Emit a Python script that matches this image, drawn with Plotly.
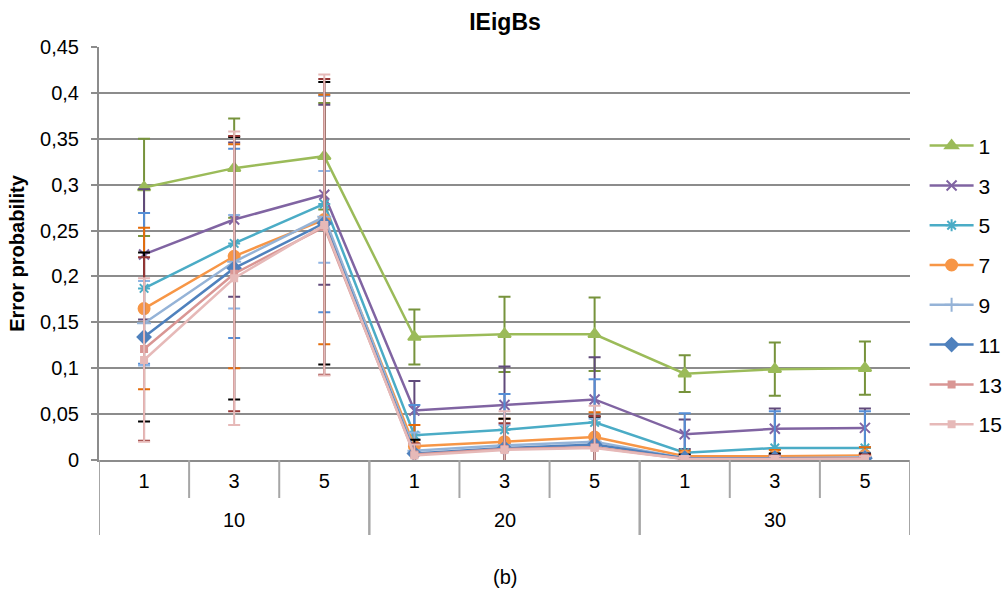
import plotly.graph_objects as go

# Outer groups and inner categories of the x axis
groups = ["10", "10", "10", "20", "20", "20", "30", "30", "30"]
inner = ["1", "3", "5", "1", "3", "5", "1", "3", "5"]

series_names = ["1", "3", "5", "7", "9", "11", "13", "15"]

s1 = [0.297, 0.318, 0.331, 0.134, 0.137, 0.137, 0.094, 0.099, 0.100]
s3 = [0.224, 0.262, 0.289, 0.054, 0.060, 0.066, 0.028, 0.034, 0.035]
s5 = [0.187, 0.236, 0.279, 0.027, 0.033, 0.041, 0.008, 0.013, 0.013]
s7 = [0.165, 0.222, 0.262, 0.015, 0.020, 0.025, 0.004, 0.004, 0.005]
s9 = [0.149, 0.216, 0.265, 0.010, 0.016, 0.020, 0.002, 0.002, 0.003]
s11 = [0.134, 0.209, 0.258, 0.007, 0.013, 0.017, 0.002, 0.002, 0.002]
s13 = [0.121, 0.203, 0.254, 0.006, 0.012, 0.014, 0.001, 0.001, 0.002]
s15 = [0.109, 0.198, 0.256, 0.005, 0.011, 0.013, 0.001, 0.001, 0.001]

e1 = [0.053, 0.054, 0.058, 0.030, 0.041, 0.040, 0.020, 0.029, 0.029]
e3 = [0.071, 0.084, 0.098, 0.032, 0.042, 0.046, 0.016, 0.022, 0.021]
e5 = [0.082, 0.103, 0.118, 0.033, 0.039, 0.047, 0.043, 0.040, 0.040]
e7 = [0.088, 0.122, 0.136, 0.023, 0.025, 0.027, 0.006, 0.007, 0.009]
e9 = [0.046, 0.051, 0.050, 0.020, 0.022, 0.025, 0.004, 0.004, 0.005]
e11 = [0.092, 0.143, 0.154, 0.015, 0.032, 0.030, 0.004, 0.005, 0.005]
e13 = [0.100, 0.150, 0.161, 0.012, 0.028, 0.034, 0.003, 0.004, 0.004]
e15 = [0.089, 0.160, 0.164, 0.012, 0.042, 0.046, 0.003, 0.003, 0.003]

values = [s1, s3, s5, s7, s9, s11, s13, s15]
errors = [e1, e3, e5, e7, e9, e11, e13, e15]

line_colors = ["#9BBB59", "#8064A2", "#4BACC6", "#F79646",
               "#95B3D7", "#4F81BD", "#D99694", "#E6B9B8"]
err_colors = ["#77933C", "#604A7B", "#558ED5", "#E46C0A",
              "#8EB4E3", "#000000", "#953735", "#E6B9B8"]
symbols = ["triangle-up", "x-thin-open", "asterisk-open", "circle",
           "cross-thin-open", "diamond", "square", "square"]
sizes = [11, 10, 10, 11, 10, 10, 6, 6]

FONT = "Liberation Sans, Arial, sans-serif"
AXIS_GREY = "#8C8C8C"
SEP_GREY = "#A6A6A6"

# Plot area geometry (pixels)
PLOT_H = 413
INNER_SEP = 38   # depth of separators between inner categories
OUTER_SEP = 75   # depth of separators between groups

xs = list(range(len(inner)))

fig = go.Figure()
for i, name in enumerate(series_names):
    fig.add_trace(go.Scatter(
        x=xs,
        y=values[i],
        name=name,
        legendgroup=name,
        mode="lines+markers",
        line=dict(color=line_colors[i], width=2.5),
        marker=dict(symbol=symbols[i], size=sizes[i], color=line_colors[i],
                    line=dict(color=line_colors[i], width=2)),
        error_y=dict(type="data", array=errors[i], visible=True,
                     color=err_colors[i], thickness=2, width=6),
    ))

# Group spans derived from the group list
spans = []
start = 0
for k in range(1, len(groups) + 1):
    if k == len(groups) or groups[k] != groups[start]:
        spans.append((groups[start], start, k - 1))
        start = k

shapes = []
annotations = []
for label, a, b in spans:
    annotations.append(dict(text=label, x=(a + b) / 2, xref="x",
                            y=-(520 - 460) / PLOT_H, yref="paper",
                            yanchor="middle", showarrow=False,
                            font=dict(size=20)))
    for edge in (a - 0.5, b + 0.5):
        shapes.append(dict(type="line", xref="x", yref="paper",
                           x0=edge, x1=edge, y0=0, y1=-OUTER_SEP / PLOT_H,
                           line=dict(color=SEP_GREY, width=2)))
    for k in range(a, b):
        shapes.append(dict(type="line", xref="x", yref="paper",
                           x0=k + 0.5, x1=k + 0.5, y0=0,
                           y1=-INNER_SEP / PLOT_H,
                           line=dict(color=SEP_GREY, width=2)))

annotations.append(dict(text="(b)", x=0.5, xref="paper",
                        y=-(577 - 460) / PLOT_H, yref="paper",
                        yanchor="middle", showarrow=False,
                        font=dict(size=20)))

fig.update_layout(
    width=1004, height=598,
    margin=dict(l=99, r=94, t=47, b=138, autoexpand=False),
    paper_bgcolor="white", plot_bgcolor="white",
    separators=", ",
    font=dict(family=FONT, size=20, color="#000000"),
    title=dict(text="<b>IEigBs</b>", x=0.503, xanchor="center",
               y=0.963, yanchor="middle", font=dict(size=23)),
    showlegend=True,
    legend=dict(x=1.018, xanchor="left", y=0.81, yanchor="top",
                traceorder="grouped", tracegroupgap=9.5,
                font=dict(size=21), itemwidth=44,
                bgcolor="rgba(0,0,0,0)"),
    shapes=shapes,
    annotations=annotations,
)

fig.update_yaxes(
    range=[0, 0.45], dtick=0.05, tick0=0,
    showgrid=True, gridcolor=AXIS_GREY, gridwidth=2,
    showline=True, linecolor=AXIS_GREY, linewidth=2,
    ticks="outside", ticklen=6, tickcolor=AXIS_GREY, tickwidth=2,
    ticklabelstandoff=8,
    zeroline=False,
    title=dict(text="<b>Error probability</b>", font=dict(size=20), standoff=10),
    tickfont=dict(size=20),
)
fig.update_xaxes(
    range=[-0.5, len(inner) - 0.5],
    tickvals=xs, ticktext=inner, ticks="",
    ticklabelstandoff=2,
    showline=True, linecolor=AXIS_GREY, linewidth=2,
    showgrid=False, zeroline=False,
    tickfont=dict(size=20),
)

fig.write_html("out.html")
